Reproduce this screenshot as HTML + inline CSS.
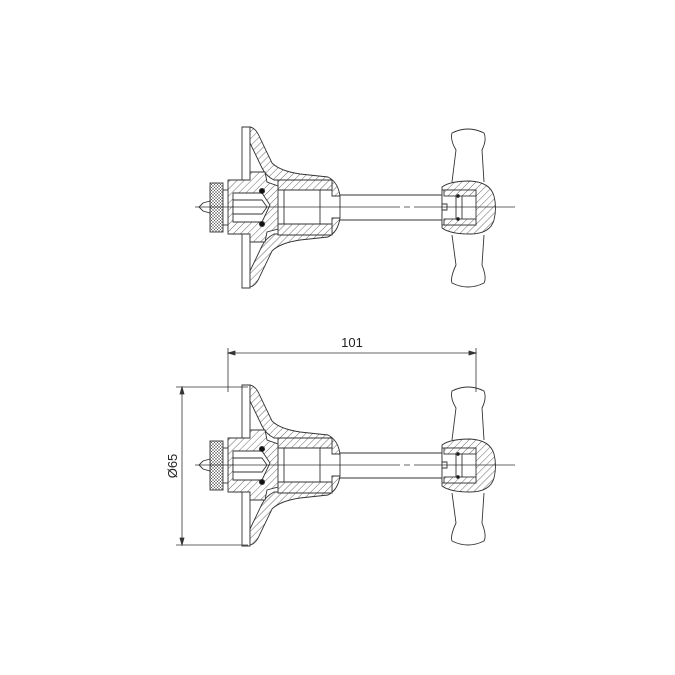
<!DOCTYPE html>
<html><head><style>html,body{margin:0;padding:0;background:#fff}svg{display:block}</style></head>
<body>
<svg width="675" height="675" viewBox="0 0 675 675" xmlns="http://www.w3.org/2000/svg">
<defs>
<pattern id="h" width="5" height="5" patternUnits="userSpaceOnUse" patternTransform="rotate(45)">
<rect width="5" height="5" fill="#fff"/><line x1="0" y1="0" x2="0" y2="5" stroke="#444" stroke-width="0.8"/></pattern>
<pattern id="k" width="3" height="3" patternUnits="userSpaceOnUse">
<rect width="3" height="3" fill="#fff"/><path d="M0 0L3 3M3 0L0 3" stroke="#555" stroke-width="0.5"/></pattern>
<g id="v" stroke="#333" stroke-width="0.9" fill="none">
<path d="M242 127 L250 127 L250 288 L242 288 Z" fill="#fff"/>
<path d="M250 127 Q256 128 260 138 L272 163 Q280 171 300 174 L328 177 Q338 182 340 196 L332 196 L332 180 L274 180 Q266 176 262 168 L250 143 Z" fill="url(#h)"/>
<path d="M250 287 Q256 286 260 276 L272 251 Q280 243 300 240 L328 237 Q338 232 340 218 L332 218 L332 234 L274 234 Q266 238 262 246 L250 271 Z" fill="url(#h)"/>
<path d="M340 196 L340 218"/>
<path d="M278 180 L332 180 L332 190 L278 190 Z" fill="url(#h)"/>
<path d="M278 224 L332 224 L332 235 L278 235 Z" fill="url(#h)"/>
<path d="M284 190 L284 224 M320 190 L320 224" />
<path d="M228 180 L250 180 L250 172 L265 172 L267 182 L278 186 L278 229 L267 232 L265 242 L250 242 L250 234 L228 234 Z" fill="url(#h)"/>
<path d="M233 193 L262 193 L270 205 L262 222 L233 222 Z" fill="#fff"/>
<path d="M233 200 L262 200 L267 207 L262 214 L233 214 Z" fill="#fff"/>
<circle cx="262" cy="191" r="2.6" fill="#111"/>
<circle cx="262" cy="224" r="2.6" fill="#111"/>
<rect x="210" y="183" width="13" height="49" fill="url(#k)"/>
<rect x="223" y="190" width="5" height="35" fill="#fff"/>
<path d="M210 201 L203 203 L199 207 L203 211 L210 213 Z" fill="#fff"/>
<path d="M340 195 L442 195 M340 220 L442 220"/>
<path d="M452 182 L456 150 Q450 140 452 133 Q468 125 484 133 Q487 140 482 150 L484 182" fill="#fff"/>
<path d="M452 235 L456 265 Q450 278 452 283 Q468 291 484 283 Q487 278 482 265 L484 235" fill="#fff"/>
<path d="M442 187 Q450 181 470 181 Q490 182 494 196 Q497 208 494 220 Q490 234 470 234 Q450 234 442 228 Z" fill="url(#h)"/>
<rect x="442" y="190" width="34" height="35" fill="#fff"/>
<rect x="444" y="190" width="32" height="6" fill="url(#h)"/>
<rect x="444" y="219" width="32" height="6" fill="url(#h)"/>
<path d="M456 196 L456 219 M462 196 L462 219 M442 204 L447 204 L447 210 L442 210"/>
<circle cx="458" cy="196" r="1.4" fill="#111"/><circle cx="458" cy="219" r="1.4" fill="#111"/>
<path d="M195 207 L400 207 M404 207 L410 207 M414 207 L515 207" stroke-width="0.7"/>
</g>
</defs>
<use href="#v"/>
<use href="#v" transform="translate(0,258)"/>
<g stroke="#333" stroke-width="0.8" fill="none">
<path d="M228 348 L228 392 M476 348 L476 392 M228 353 L476 353"/>
<path d="M228 353 l7 -2 v4 z M476 353 l-7 -2 v4 z" fill="#333"/>
<path d="M176 387 L248 387 M176 545 L248 545 M182 387 L182 545"/>
<path d="M182 387 l-2 7 h4 z M182 545 l-2 -7 h4 z" fill="#333"/>
</g>
<text x="352" y="347" font-family="Liberation Sans, sans-serif" font-size="13" text-anchor="middle" fill="#222">101</text>
<text transform="translate(177,466) rotate(-90)" font-family="Liberation Sans, sans-serif" font-size="13" text-anchor="middle" fill="#222">Ø65</text>
</svg>
</body></html>
